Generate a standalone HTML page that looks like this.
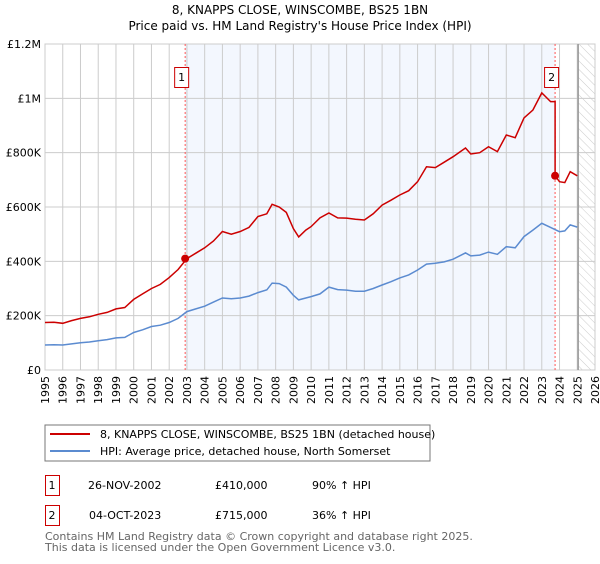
<!DOCTYPE html>
<html><head><meta charset="utf-8"><style>
body{margin:0;background:#fff;font-family:"DejaVu Sans","Liberation Sans",sans-serif;}
svg text{font-family:"DejaVu Sans","Liberation Sans",sans-serif;}
</style></head><body>
<svg width="600" height="560" viewBox="0 0 600 560" xmlns="http://www.w3.org/2000/svg">
<defs><pattern id="hatch" width="6" height="6" patternUnits="userSpaceOnUse" patternTransform="rotate(-45)"><line x1="0" y1="0" x2="0" y2="6" stroke="#ccc" stroke-width="1"/></pattern></defs>
<text x="300" y="14" text-anchor="middle" font-size="12" fill="#000">8, KNAPPS CLOSE, WINSCOMBE, BS25 1BN</text>
<text x="300" y="30" text-anchor="middle" font-size="12" fill="#000">Price paid vs. HM Land Registry's House Price Index (HPI)</text>
<g id="plot"></g>
<rect x="45" y="425" width="385" height="36" fill="#fff" stroke="#777"/>
<line x1="50" y1="434" x2="90" y2="434" stroke="#cc0000" stroke-width="2"/>
<text x="100" y="438" font-size="11">8, KNAPPS CLOSE, WINSCOMBE, BS25 1BN (detached house)</text>
<line x1="50" y1="451" x2="90" y2="451" stroke="#5b8bd0" stroke-width="2"/>
<text x="100" y="455" font-size="11">HPI: Average price, detached house, North Somerset</text>
<g>
<rect x="45.5" y="475.5" width="14" height="20" fill="#fff" stroke="#cc0000"/>
<text x="52" y="489" font-size="11" text-anchor="middle">1</text>
<text x="88" y="489" font-size="11">26-NOV-2002</text>
<text x="215" y="489" font-size="11">£410,000</text>
<text x="312" y="489" font-size="11">90% ↑ HPI</text></g>
<g>
<rect x="45.5" y="505.5" width="14" height="20" fill="#fff" stroke="#cc0000"/>
<text x="52" y="519" font-size="11" text-anchor="middle">2</text>
<text x="89" y="519" font-size="11">04-OCT-2023</text>
<text x="215" y="519" font-size="11">£715,000</text>
<text x="312" y="519" font-size="11">36% ↑ HPI</text></g>
<text x="45" y="540" font-size="11" fill="#666">Contains HM Land Registry data © Crown copyright and database right 2025.</text>
<text x="45" y="551" font-size="11" fill="#666">This data is licensed under the Open Government Licence v3.0.</text>
</svg>
<script>
const hpiYears=[1995,1995.5,1996,1996.5,1997,1997.5,1998,1998.5,1999,1999.5,2000,2000.5,2001,2001.5,2002,2002.5,2003,2003.5,2004,2004.5,2005,2005.5,2006,2006.5,2007,2007.5,2007.8,2008.2,2008.6,2009,2009.3,2009.7,2010,2010.5,2011,2011.5,2012,2012.5,2013,2013.5,2014,2014.5,2015,2015.5,2016,2016.5,2017,2017.5,2018,2018.7,2019,2019.5,2020,2020.5,2021,2021.5,2022,2022.5,2023,2023.5,2024,2024.3,2024.6,2025];
const hpiValues=[92000,93000,92000,96000,100000,103000,108000,112000,118000,120000,138000,148000,160000,165000,175000,190000,215000,225000,235000,250000,265000,262000,265000,272000,285000,295000,320000,318000,305000,275000,258000,265000,270000,280000,305000,296000,294000,290000,290000,300000,313000,325000,339000,350000,368000,390000,393000,398000,408000,431000,420000,423000,434000,426000,454000,450000,491000,515000,540000,525000,509000,512000,534000,526000];
const priceValues=[175000,176000,172000,182000,190000,196000,205000,212000,225000,230000,260000,280000,300000,315000,340000,370000,410000,430000,450000,475000,510000,500000,510000,525000,565000,575000,610000,600000,580000,520000,490000,515000,528000,560000,578000,560000,559000,555000,552000,575000,607000,625000,644000,660000,693000,748000,745000,765000,785000,817000,795000,800000,822000,804000,865000,855000,928000,957000,1020000,988000,693000,690000,730000,715000];
const saleYears=[2002.9,2023.75];
const salePrices=[410000,715000];
const saleLabels=["1","2"];
const yTicks=[0,200000,400000,600000,800000,1000000,1200000];
const yTickLabels=["£0","£200K","£400K","£600K","£800K","£1M","£1.2M"];
const xTicks=[1995,1996,1997,1998,1999,2000,2001,2002,2003,2004,2005,2006,2007,2008,2009,2010,2011,2012,2013,2014,2015,2016,2017,2018,2019,2020,2021,2022,2023,2024,2025,2026];
const X0=45,X1=595,Y0=370,Y1=44;
const xs=t=>X0+(t-1995)/(2026-1995)*(X1-X0);
const ys=v=>Y0-v/1200000*(Y0-Y1);
const NS="http://www.w3.org/2000/svg";
const g=document.getElementById('plot');
function mk(tag,attrs,parent){const e=document.createElementNS(NS,tag);for(const k in attrs)e.setAttribute(k,attrs[k]);(parent||g).appendChild(e);return e;}
let e;
e=mk('rect',{x:X0,y:Y1,width:X1-X0,height:Y0-Y1,fill:'#fff',stroke:'#ccc'});


e=mk('rect',{x:xs(saleYears[0]),y:Y1,width:xs(saleYears[1])-xs(saleYears[0]),height:Y0-Y1,fill:'#eef3fd',opacity:0.7});


e=mk('rect',{x:xs(2025.05),y:Y1,width:X1-xs(2025.05),height:Y0-Y1,fill:'url(#hatch)'});


xTicks.forEach(t=>{
 e=mk('line',{x1:xs(t),x2:xs(t),y1:Y1,y2:Y0,stroke:'#ccc'});
 
 
 e=mk('text',{x:0,y:0,'font-size':11,'text-anchor':'end',transform:`translate(${xs(t)+4},${Y0+6}) rotate(-90)`});
 e.textContent=t;
 
 
});
yTicks.forEach((v,i)=>{
 e=mk('line',{x1:X0,x2:X1,y1:ys(v),y2:ys(v),stroke:'#ccc'});
 
 
 e=mk('text',{x:X0-4,y:ys(v)+4,'font-size':11,'text-anchor':'end'});
 e.textContent=yTickLabels[i];
 
 
});
e=mk('line',{x1:xs(2025.05),x2:xs(2025.05),y1:Y1,y2:Y0,stroke:'#999','stroke-width':1.5});


saleYears.forEach((t,i)=>{
 e=mk('line',{x1:xs(t),x2:xs(t),y1:Y1,y2:Y0,stroke:'#ff5555','stroke-dasharray':'2,2'});
 
 
});
let hp=hpiYears.map((t,i)=>xs(t).toFixed(1)+','+ys(hpiValues[i]).toFixed(1)).join(' ');
e=mk('polyline',{points:hp,fill:'none',stroke:'#5b8bd0','stroke-width':1.5});


let pts=[];
hpiYears.forEach((t,i)=>{
 if(t>saleYears[1]&&pts.length&&hpiYears[i-1]<saleYears[1]){pts.push([saleYears[1],priceValues[i-1]]);pts.push([saleYears[1],salePrices[1]]);}
 pts.push([t,priceValues[i]]);
});
e=mk('polyline',{points:pts.map(p=>xs(p[0]).toFixed(1)+','+ys(p[1]).toFixed(1)).join(' '),fill:'none',stroke:'#cc0000','stroke-width':1.5});


saleYears.forEach((t,i)=>{
 e=mk('circle',{cx:xs(t),cy:ys(salePrices[i]),r:4,fill:'#cc0000'});
 
 
 e=mk('rect',{x:xs(t)-10.5,y:67.5,width:14,height:20,fill:'#fff',stroke:'#cc0000'});
 
 
 e=mk('text',{x:xs(t)-3.5,y:81,'font-size':11,'text-anchor':'middle'});
 e.textContent=saleLabels[i];
 
 
});
</script>
</body></html>
